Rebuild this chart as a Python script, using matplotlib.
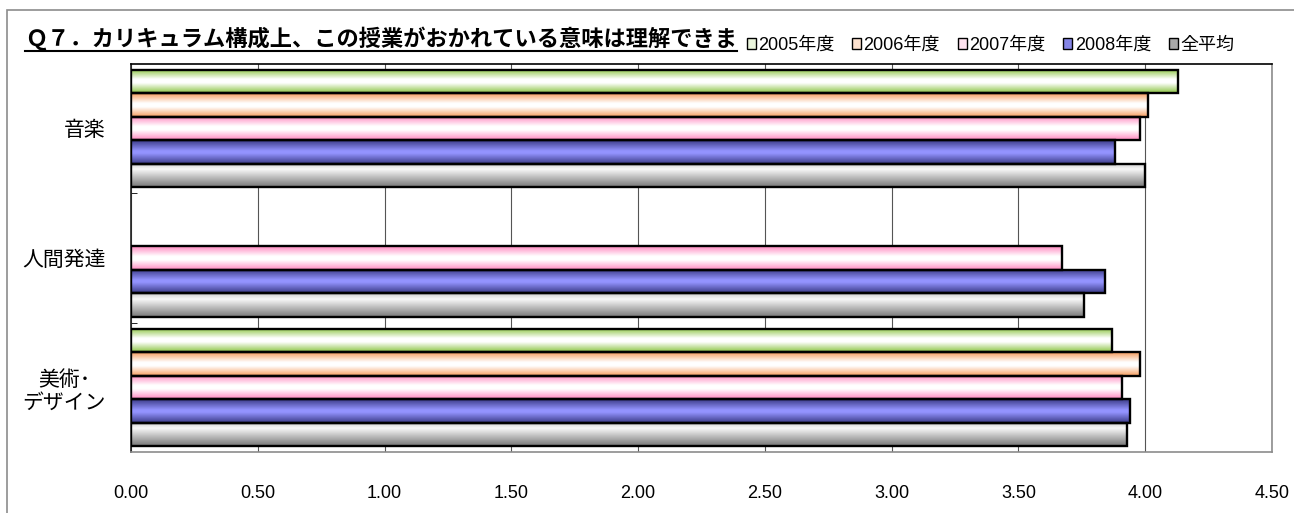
import numpy as np
import matplotlib
matplotlib.use("Agg")
import matplotlib.pyplot as plt
from matplotlib.colors import LinearSegmentedColormap
from matplotlib.patches import Patch, Rectangle
from matplotlib.lines import Line2D

plt.rcParams['font.family'] = ['Liberation Sans', 'Noto Sans CJK JP', 'DejaVu Sans']

title = 'Ｑ７．カリキュラム構成上、この授業がおかれている意味は理解できま'
categories = ['音楽', '人間発達', '美術･\nデザイン']
series_names = ['2005年度', '2006年度', '2007年度', '2008年度', '全平均']

v2005 = [4.13, np.nan, 3.87]
v2006 = [4.01, np.nan, 3.98]
v2007 = [3.98, 3.67, 3.91]
v2008 = [3.88, 3.84, 3.94]
vall = [4.00, 3.76, 3.93]

xticks = [0.0, 0.5, 1.0, 1.5, 2.0, 2.5, 3.0, 3.5, 4.0, 4.5]

# gradient stops, top of bar -> bottom of bar
grad_stops = [
    [(0.0, '#8cc443'), (0.42, '#ffffff'), (0.58, '#ffffff'), (1.0, '#8cc443')],
    [(0.0, '#f79c5c'), (0.42, '#ffffff'), (0.58, '#ffffff'), (1.0, '#f79c5c')],
    [(0.0, '#ff88c0'), (0.42, '#ffffff'), (0.58, '#ffffff'), (1.0, '#ff88c0')],
    [(0.0, '#3a3a86'), (0.45, '#9494ff'), (0.55, '#9494ff'), (1.0, '#3a3a86')],
    [(0.0, '#cccccc'), (0.25, '#f8f8f8'), (1.0, '#777777')],
]
legend_faces = ['#eaf5dc', '#fde2cf', '#ffe2ef', '#8585e6', '#a8a8a8']

W, H = 1294, 513
fig = plt.figure(figsize=(W / 100, H / 100), dpi=100)
ax = fig.add_axes([131 / W, 1 - 452 / H, (1272 - 131) / W, (452 - 64) / H])

values = [v2005, v2006, v2007, v2008, vall]
ncat = len(categories)
nser = len(series_names)
h = 1 / (nser + 0.5)
cat_y = np.arange(ncat)[::-1].astype(float)
grad = np.linspace(0, 1, 128).reshape(-1, 1)

for j, vals in enumerate(values):
    vals = np.array(vals, dtype=float)
    ok = ~np.isnan(vals)
    ys = cat_y[ok] + (nser // 2 - j) * h
    bars = ax.barh(ys, vals[ok], height=h, facecolor='none',
                   edgecolor='black', linewidth=1.7, zorder=3)
    cmap = LinearSegmentedColormap.from_list('g%d' % j, grad_stops[j])
    for b in bars:
        x0, y0 = b.get_xy()
        ax.imshow(grad, cmap=cmap, aspect='auto', interpolation='bilinear',
                  extent=[x0, x0 + b.get_width(), y0, y0 + b.get_height()],
                  zorder=2)

ax.set_xlim(0, 4.5)
ax.set_ylim(-0.5, ncat - 0.5)
ax.set_xticks(xticks)
ax.set_xticklabels(['%.2f' % t for t in xticks], fontsize=13)
ax.set_yticks(cat_y)
ax.set_yticklabels(categories, fontsize=15, linespacing=1.25)
for lab in ax.get_yticklabels():
    lab.set_multialignment('center')
ax.set_yticks(np.arange(ncat - 1) + 0.5, minor=True)
ax.tick_params(axis='x', length=0, pad=24)
ax.tick_params(axis='y', which='major', length=0, pad=18)
ax.tick_params(axis='y', which='minor', direction='in', length=4, color='black')
ax.grid(axis='x', color='#555555', linewidth=0.8, zorder=1)
ax.set_axisbelow(True)

ax.spines['top'].set_color('black')
ax.spines['left'].set_color('#222222')
ax.spines['right'].set_color('#8c8c8c')
ax.spines['bottom'].set_color('#8c8c8c')
for s in ax.spines.values():
    s.set_linewidth(1.2)

# outer chart frame
fig.add_artist(Rectangle((7 / W, -0.1), 2, 1.1 - 10 / H, transform=fig.transFigure,
                         fill=False, edgecolor='#8c8c8c', linewidth=1.2, zorder=0))

t = fig.text(25 / W, 1 - 39 / H, title, fontsize=16, weight='bold',
             family=['Noto Sans CJK JP'], ha='left', va='center', zorder=3)
fig.canvas.draw()
bb = t.get_window_extent()
fig.add_artist(Line2D([bb.x0 / W, bb.x1 / W], [1 - 51 / H, 1 - 51 / H],
                      transform=fig.transFigure, color='black', linewidth=1.5, zorder=3))

handles = [Patch(facecolor=c, edgecolor='black', linewidth=1.0) for c in legend_faces]
leg = fig.legend(handles, series_names, loc='upper left',
                 bbox_to_anchor=(737 / W, 1 - 27 / H), ncol=nser, fontsize=13,
                 frameon=False, borderpad=0.55, borderaxespad=0, handlelength=0.5,
                 handleheight=0.5, handletextpad=0.12, columnspacing=1.0)

fig.savefig('out.png', dpi=100)
